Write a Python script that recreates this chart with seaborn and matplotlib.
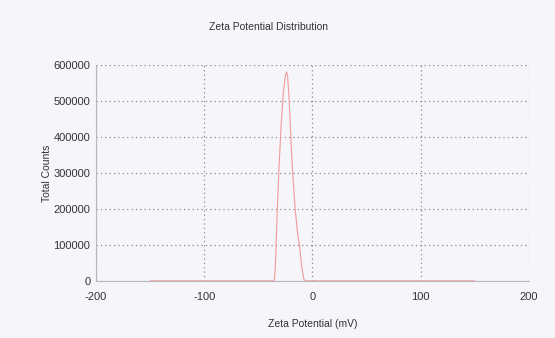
import numpy as np
import pandas as pd
import matplotlib
matplotlib.use("Agg")
import matplotlib.pyplot as plt
from matplotlib.ticker import MultipleLocator
import seaborn as sns

# values
zeta_mv = [-150, -40, -36, -35, -34, -33.5, -32.5, -31, -29, -27, -25, -24,
           -23, -21.5, -20, -18.5, -16, -13.5, -12, -10, -8, -7, 150]
counts = [0, 0, 0, 5000, 60000, 110000, 200000, 310000, 430000, 520000, 570000, 580000,
          570000, 500000, 400000, 310000, 200000, 125000, 100000, 40000, 5000, 0, 0]
x_ticks = [-200, -100, 0, 100, 200]
y_ticks = [0, 100000, 200000, 300000, 400000, 500000, 600000]

df = pd.DataFrame({"Zeta Potential (mV)": zeta_mv, "Total Counts": counts})

sns.set_style("white")
plt.rcParams['font.family'] = ['Liberation Sans', 'DejaVu Sans']

bg = '#f6f5f9'
txt = '#333333'
fig = plt.figure(figsize=(5.55, 3.38), dpi=100, facecolor=bg)
ax = fig.add_axes([0.173, 0.169, 0.780, 0.639], facecolor=bg)

sns.lineplot(data=df, x="Zeta Potential (mV)", y="Total Counts", ax=ax,
             color='#f29a9a', linewidth=0.8)

ax.set_xlim(-200, 200)
ax.set_ylim(0, 600000)
ax.set_xticks(x_ticks)
ax.set_yticks(y_ticks)
ax.xaxis.set_minor_locator(MultipleLocator(50))
ax.yaxis.set_minor_locator(MultipleLocator(50000))
ax.set_xticklabels([str(v) for v in x_ticks])
ax.set_yticklabels([str(v) for v in y_ticks])

ax.grid(True, which='major', linestyle=(0, (1, 2.5)), color='#8a8a8a', linewidth=0.9)
for s in ['top', 'right']:
    ax.spines[s].set_visible(False)
for s in ['left', 'bottom']:
    ax.spines[s].set_color('#b8b8bc')
    ax.spines[s].set_linewidth(0.8)

ax.tick_params(which='major', length=0, labelsize=8, colors=txt, pad=4)
ax.tick_params(which='minor', length=3, direction='inout', color='#b8b8bc', width=0.7)
ax.tick_params(axis='x', which='major', pad=8)

fig.text(0.483, 0.92, "Zeta Potential Distribution", fontsize=7.5, color=txt,
         ha='center', va='center')
ax.set_xlabel("Zeta Potential (mV)", fontsize=7.5, color=txt, labelpad=12)
ax.set_ylabel("Total Counts", fontsize=7.5, color=txt, labelpad=1)

fig.savefig("out.png", dpi=100, facecolor=bg)
